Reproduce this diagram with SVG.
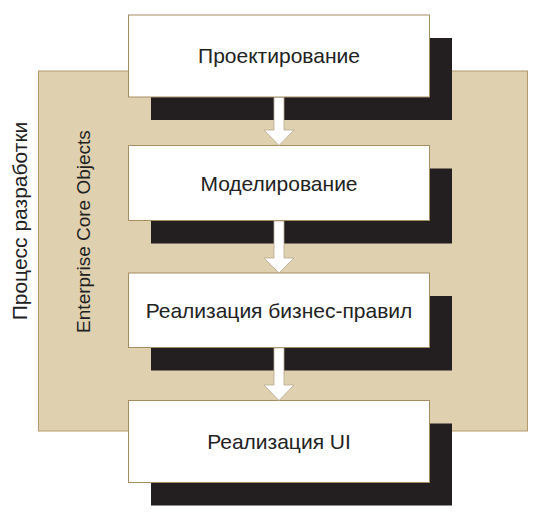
<svg xmlns="http://www.w3.org/2000/svg" width="549" height="523" viewBox="0 0 549 523">
<style>
.bg{fill:#ffffff}
.frame{fill:#dfd0b0;stroke:#b29a6c;stroke-width:1}
.shadow{fill:#231f20}
.box{fill:#ffffff;stroke:#a58e62;stroke-width:1}
.lbl{font-family:"Liberation Sans",Arial,sans-serif;font-size:21px;fill:#222222;text-anchor:middle}
.side{font-family:"Liberation Sans",Arial,sans-serif;fill:#222222;text-anchor:middle}
.arrow{fill:#ffffff;stroke:#b8aa90;stroke-width:0.8}
</style>
<rect class="bg" x="0" y="0" width="549" height="523"/>
<g id="frame">
<rect class="frame" x="38.5" y="71" width="489" height="360"/>
<text class="side" font-size="19" transform="translate(89.5,231.5) rotate(-90)">Enterprise Core Objects</text>
</g>
<text id="process-label" class="side" font-size="21" transform="translate(26.5,221) rotate(-90)">Процесс разработки</text>
<g id="node-design">
<rect class="shadow" x="151" y="38" width="301" height="82"/>
<rect class="box" x="128.5" y="15" width="301" height="82"/>
<text class="lbl" x="279" y="63">Проектирование</text>
</g>
<g id="node-modeling">
<rect class="shadow" x="151" y="168.5" width="301" height="75"/>
<rect class="box" x="128.5" y="145.5" width="301" height="75"/>
<text class="lbl" x="279" y="191">Моделирование</text>
</g>
<g id="node-rules">
<rect class="shadow" x="151" y="296" width="301" height="74.5"/>
<rect class="box" x="128.5" y="273" width="301" height="74.5"/>
<text class="lbl" x="279" y="318">Реализация бизнес-правил</text>
</g>
<g id="node-ui">
<rect class="shadow" x="151" y="423.5" width="301" height="82"/>
<rect class="box" x="128.5" y="400.5" width="301" height="82"/>
<text class="lbl" x="279" y="449">Реализация UI</text>
</g>
<g id="connectors">
<path class="arrow" d="M274 97.5 L284 97.5 L284 130 L294 130 L279 145.5 L264 130 L274 130 Z"/>
<path class="arrow" d="M274 221 L284 221 L284 258 L294 258 L279 273 L264 258 L274 258 Z"/>
<path class="arrow" d="M274 348 L284 348 L284 385 L294 385 L279 400.5 L264 385 L274 385 Z"/>
</g>
</svg>
